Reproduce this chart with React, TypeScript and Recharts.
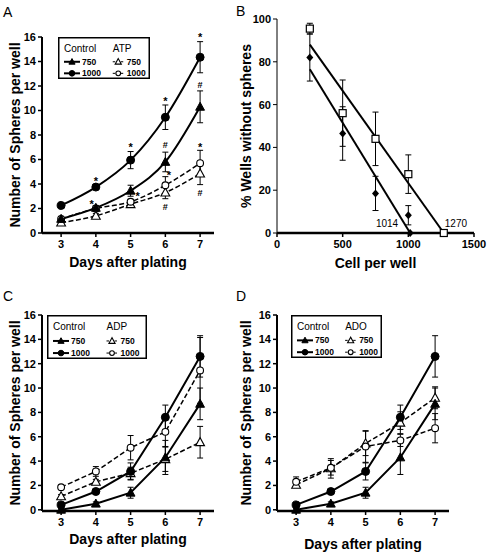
import React from "react";
import {
  LineChart,
  Line,
  XAxis,
  YAxis,
  ErrorBar,
  Legend,
  Label,
  ReferenceDot,
  ReferenceLine,
  ComposedChart,
  Scatter,
} from "recharts";

const FONT = '"Liberation Sans", Arial, Helvetica, sans-serif';

const days = [3, 4, 5, 6, 7];
const sphereTicks = [0, 2, 4, 6, 8, 10, 12, 14, 16];

// A: control vs ATP
const aCtrl750 = [1.15, 2.05, 3.45, 5.8, 10.3];
const aCtrl750Err = [0.15, 0.2, 0.45, 0.8, 1.3];
const aCtrl1000 = [2.25, 3.75, 5.95, 9.45, 14.35];
const aCtrl1000Err = [0.15, 0.2, 0.7, 1.0, 1.27];
const aAtp750 = [0.85, 1.4, 2.35, 3.3, 4.85];
const aAtp750Err = [0.15, 0.2, 0.2, 0.5, 0.9];
const aAtp1000 = [1.15, 2.0, 2.55, 3.9, 5.7];
const aAtp1000Err = [0.2, 0.2, 0.2, 0.7, 1.05];
const aStars = [[4, 4.4], [5, 7.2], [6, 10.9], [7, 16.2], [3.88, 2.5], [5.2, 3.2], [6.1, 4.9], [7, 7.2]];
const aHashes = [[6, 7.2], [7, 12.1], [6, 2.15], [7, 3.3]];

// C and D share the control groups
const cdCtrl750 = [0, 0.5, 1.4, 4.3, 8.7];
const cdCtrl750Err = [0.1, 0.15, 0.45, 1.4, 1.3];
const cdCtrl1000 = [0.4, 1.5, 3.15, 7.6, 12.6];
const cdCtrl1000Err = [0.15, 0.2, 0.7, 1.0, 1.7];

// C: ADP
const cAdp750 = [1.1, 2.3, 3.0, 4.15, 5.55];
const cAdp750Err = [0.15, 0.2, 0.5, 1.0, 1.3];
const cAdp1000 = [1.85, 3.15, 5.1, 6.4, 11.45];
const cAdp1000Err = [0.15, 0.4, 1.0, 1.2, 2.7];

// D: ADO
const dAdo750 = [2.05, 3.4, 5.45, 7.15, 9.2];
const dAdo750Err = [0.2, 0.8, 1.0, 0.9, 0.9];
const dAdo1000 = [2.3, 3.45, 5.2, 5.7, 6.7];
const dAdo1000Err = [0.4, 0.6, 1.3, 0.5, 1.2];

// B: limiting dilution
const bCells = [250, 500, 750, 1000];
const bDiamond = [82, 46.5, 18.5, 8.3];
const bDiamondErr = [11, 12.5, 8, 4.5];
const bSquare = [95.5, 56, 44, 27.5];
const bSquareErr = [2.5, 15.5, 12.5, 9];
const bIntercepts = [1014, 1270];
const bDiamondFit = [{ x: 250, y: 76.5 }, { x: 1014, y: 0 }];
const bSquareFit = [{ x: 250, y: 88 }, { x: 1270, y: 0 }];

const buildRows = (c750: number[], c750e: number[], c1000: number[], c1000e: number[], t750: number[], t750e: number[], t1000: number[], t1000e: number[]) =>
  days.map((day, i) => ({
    day,
    c750: c750[i], c750e: c750e[i],
    c1000: c1000[i], c1000e: c1000e[i],
    t750: t750[i], t750e: t750e[i],
    t1000: t1000[i], t1000e: t1000e[i],
  }));

const aRows = buildRows(aCtrl750, aCtrl750Err, aCtrl1000, aCtrl1000Err, aAtp750, aAtp750Err, aAtp1000, aAtp1000Err);
const cRows = buildRows(cdCtrl750, cdCtrl750Err, cdCtrl1000, cdCtrl1000Err, cAdp750, cAdp750Err, cAdp1000, cAdp1000Err);
const dRows = buildRows(cdCtrl750, cdCtrl750Err, cdCtrl1000, cdCtrl1000Err, dAdo750, dAdo750Err, dAdo1000, dAdo1000Err);

const bDiamondRows = [
  ...bCells.map((x, i) => ({ x, y: bDiamond[i], e: bDiamondErr[i] })),
  { x: bIntercepts[0], y: 0, e: 0 },
];
const bSquareRows = [
  ...bCells.map((x, i) => ({ x, y: bSquare[i], e: bSquareErr[i] })),
  { x: bIntercepts[1], y: 0, e: 0 },
];

const tickStyle = { fontSize: 11, fontWeight: "bold", fill: "#000", fontFamily: FONT };
const titleStyle = { fontSize: 14, fontWeight: "bold", fill: "#000", fontFamily: FONT };

function Marker({ cx, cy, kind, s = 1 }: { cx?: number; cy?: number; kind: string; s?: number }) {
  if (cx == null || cy == null) return null;
  const open = kind.startsWith("open");
  const fill = open ? "#fff" : "#000";
  if (kind.endsWith("tri")) {
    return (
      <polygon
        points={`${cx},${cy - 4.6 * s} ${cx - 4.4 * s},${cy + 3.4 * s} ${cx + 4.4 * s},${cy + 3.4 * s}`}
        fill={fill}
        stroke="#000"
        strokeWidth={open ? 1.1 : 1}
      />
    );
  }
  if (kind.endsWith("diamond")) {
    return <polygon points={`${cx},${cy - 4} ${cx - 3.5},${cy} ${cx},${cy + 4} ${cx + 3.5},${cy}`} fill="#000" />;
  }
  if (kind.endsWith("square")) {
    return <rect x={cx - 3.5} y={cy - 3.5} width={7} height={7} fill="#fff" stroke="#000" strokeWidth={1.2} />;
  }
  return <circle cx={cx} cy={cy} r={(open ? 3.4 : 4) * s} fill={fill} stroke="#000" strokeWidth={open ? 1.1 : 1} />;
}

const dotOf = (kind: string) => (p: any) => <Marker key={`${kind}-${p.index}`} cx={p.cx} cy={p.cy} kind={kind} />;

function KeyBox({ treat, w, h }: { treat: string; w: number; h: number }) {
  const t = h * 0.35;
  const rows = [
    { y: h * 0.59, label: "750", mark: "tri" },
    { y: h * 0.865, label: "1000", mark: "circle" },
  ];
  const col2 = w * 0.595;
  return (
    <svg width={w} height={h} style={{ display: "block", fontFamily: FONT }}>
      <rect x={0.75} y={0.75} width={w - 1.5} height={h - 1.5} fill="#fff" stroke="#000" strokeWidth={1.5} />
      <text x={6} y={t} fontSize={10} fill="#000">Control</text>
      <text x={col2} y={t} fontSize={10} fill="#000">{treat}</text>
      {rows.map((r) => (
        <g key={r.label}>
          <line x1={6} x2={22} y1={r.y} y2={r.y} stroke="#000" strokeWidth={2} />
          <Marker cx={14} cy={r.y} kind={`filled-${r.mark}`} s={0.7} />
          <text x={24} y={r.y + 3} fontSize={8.5} fontWeight="bold" fill="#000">{r.label}</text>
          <line x1={col2} x2={col2 + 11} y1={r.y} y2={r.y} stroke="#000" strokeWidth={1} strokeDasharray="2.5 1.5" />
          <Marker cx={col2 + 5.5} cy={r.y} kind={`open-${r.mark}`} s={0.7} />
          <text x={col2 + 14} y={r.y + 3} fontSize={8.5} fontWeight="bold" fill="#000">{r.label}</text>
        </g>
      ))}
    </svg>
  );
}

function Annotation({ cx, cy, sym }: any) {
  if (cx == null || cy == null) return null;
  const star = sym === "*";
  return (
    <text
      x={cx}
      y={cy + (star ? 6 : 3.3)}
      textAnchor="middle"
      fontSize={star ? 11 : 9}
      fontWeight="bold"
      fontFamily={FONT}
      fill="#000"
    >
      {sym}
    </text>
  );
}

type PanelProps = {
  rows: ReturnType<typeof buildRows>;
  treat: string;
  curve: "monotone" | "linear";
  width: number;
  height: number;
  margin: { top: number; right: number; bottom: number; left: number };
  yWidth: number;
  yTitleOffset: number;
  xTitleOffset: number;
  key_: { left: number; top: number; w: number; h: number };
  marks?: { x: number; y: number; sym: string }[];
};

function SpherePanel(p: PanelProps) {
  return (
    <LineChart width={p.width} height={p.height} data={p.rows} margin={p.margin}>
      <XAxis
        dataKey="day"
        type="number"
        domain={[2.45, 7.4]}
        ticks={days}
        height={30}
        tick={tickStyle}
        tickSize={4}
        tickMargin={3}
        axisLine={{ stroke: "#000", strokeWidth: 2.5 }}
        tickLine={{ stroke: "#000", strokeWidth: 1.5 }}
      >
        <Label value="Days after plating" position="bottom" offset={p.xTitleOffset} style={titleStyle} />
      </XAxis>
      <YAxis
        domain={[0, 16]}
        ticks={sphereTicks}
        width={p.yWidth}
        tick={tickStyle}
        tickSize={4}
        tickMargin={2}
        axisLine={{ stroke: "#000", strokeWidth: 2 }}
        tickLine={{ stroke: "#000", strokeWidth: 1.5 }}
      >
        <Label
          value="Number of Spheres per well"
          angle={-90}
          position="insideLeft"
          offset={p.yTitleOffset}
          style={{ ...titleStyle, textAnchor: "middle" }}
        />
      </YAxis>
      <Legend
        layout="horizontal"
        verticalAlign="middle"
        align="center"
        wrapperStyle={{ left: p.key_.left, top: p.key_.top, width: p.key_.w, height: p.key_.h }}
        content={() => <KeyBox treat={p.treat} w={p.key_.w} h={p.key_.h} />}
      />
      <Line type={p.curve} dataKey="t750" stroke="#000" strokeWidth={1.5} strokeDasharray="5 2.5" dot={dotOf("open-tri")} isAnimationActive={false}>
        <ErrorBar dataKey="t750e" direction="y" width={3} stroke="#000" strokeWidth={1} />
      </Line>
      <Line type={p.curve} dataKey="t1000" stroke="#000" strokeWidth={1.5} strokeDasharray="5 2.5" dot={dotOf("open-circle")} isAnimationActive={false}>
        <ErrorBar dataKey="t1000e" direction="y" width={3} stroke="#000" strokeWidth={1} />
      </Line>
      <Line type={p.curve} dataKey="c750" stroke="#000" strokeWidth={2} dot={dotOf("filled-tri")} isAnimationActive={false}>
        <ErrorBar dataKey="c750e" direction="y" width={3} stroke="#000" strokeWidth={1} />
      </Line>
      <Line type={p.curve} dataKey="c1000" stroke="#000" strokeWidth={2} dot={dotOf("filled-circle")} isAnimationActive={false}>
        <ErrorBar dataKey="c1000e" direction="y" width={3} stroke="#000" strokeWidth={1} />
      </Line>
      {(p.marks || []).map((m, i) => (
        <ReferenceDot
          key={`m${i}`}
          x={m.x}
          y={m.y}
          r={0}
          ifOverflow="visible"
          shape={(s: any) => <Annotation cx={s.cx} cy={s.cy} sym={m.sym} />}
        />
      ))}
    </LineChart>
  );
}

function DilutionPanel() {
  return (
    <ComposedChart width={254} height={276} margin={{ top: 19, right: 14, bottom: 13, left: 0 }}>
      <XAxis
        dataKey="x"
        type="number"
        domain={[0, 1500]}
        ticks={[0, 500, 1000, 1500]}
        height={30}
        tick={tickStyle}
        tickSize={4}
        tickMargin={3}
        axisLine={{ stroke: "#000", strokeWidth: 2.5 }}
        tickLine={{ stroke: "#000", strokeWidth: 1.5 }}
      >
        <Label value="Cell per well" position="bottom" offset={-5} style={titleStyle} />
      </XAxis>
      <YAxis
        dataKey="y"
        type="number"
        domain={[0, 100]}
        ticks={[0, 20, 40, 60, 80, 100]}
        width={43}
        tick={tickStyle}
        tickSize={4}
        tickMargin={2}
        axisLine={{ stroke: "#000", strokeWidth: 1 }}
        tickLine={{ stroke: "#000", strokeWidth: 1 }}
      >
        <Label
          value="% Wells without spheres"
          angle={-90}
          position="insideLeft"
          offset={12}
          style={{ ...titleStyle, textAnchor: "middle" }}
        />
      </YAxis>
      <ReferenceLine segment={bDiamondFit} stroke="#000" strokeWidth={2} />
      <ReferenceLine segment={bSquareFit} stroke="#000" strokeWidth={2} />
      <Scatter data={bDiamondRows} shape={dotOf("filled-diamond")} isAnimationActive={false}>
        <ErrorBar dataKey="e" direction="y" width={3} stroke="#000" strokeWidth={1} />
      </Scatter>
      <Scatter data={bSquareRows} shape={dotOf("open-square")} isAnimationActive={false}>
        <ErrorBar dataKey="e" direction="y" width={3} stroke="#000" strokeWidth={1} />
      </Scatter>
      <ReferenceDot
        x={bIntercepts[0]}
        y={0}
        r={0}
        ifOverflow="visible"
        shape={(s: any) => (
          <text x={s.cx - 12} y={s.cy - 6.5} textAnchor="end" fontSize={10} fontFamily={FONT} fill="#000">
            {bIntercepts[0]}
          </text>
        )}
      />
      <ReferenceDot
        x={bIntercepts[1]}
        y={0}
        r={0}
        ifOverflow="visible"
        shape={(s: any) => (
          <text x={s.cx + 1} y={s.cy - 6.5} textAnchor="start" fontSize={10} fontFamily={FONT} fill="#000">
            {bIntercepts[1]}
          </text>
        )}
      />
    </ComposedChart>
  );
}

const letter = (ch: string, left: number, top: number) => (
  <div style={{ position: "absolute", left, top, fontSize: 14, fontFamily: FONT, lineHeight: "16px" }}>{ch}</div>
);

export default function App() {
  const aMarks = [
    ...aStars.map(([x, y]) => ({ x, y, sym: "*" })),
    ...aHashes.map(([x, y]) => ({ x, y, sym: "#" })),
  ];
  return (
    <div style={{ position: "absolute", left: 0, top: 0, width: 488, height: 553, background: "#fff", fontFamily: FONT, overflow: "hidden" }}>
      <div style={{ position: "absolute", left: 0, top: 0 }}>
        <SpherePanel
          rows={aRows}
          treat="ATP"
          curve="monotone"
          width={244}
          height={276}
          margin={{ top: 37, right: 30, bottom: 13, left: 0 }}
          yWidth={42}
          yTitleOffset={15}
          xTitleOffset={-6}
          key_={{ left: 58, top: 37, w: 92, h: 42 }}
          marks={aMarks}
        />
      </div>
      <div style={{ position: "absolute", left: 234, top: 0 }}>
        <DilutionPanel />
      </div>
      <div style={{ position: "absolute", left: 0, top: 276 }}>
        <SpherePanel
          rows={cRows}
          treat="ADP"
          curve="linear"
          width={244}
          height={277}
          margin={{ top: 39, right: 30, bottom: 12, left: 0 }}
          yWidth={42}
          yTitleOffset={15}
          xTitleOffset={-7}
          key_={{ left: 47, top: 39, w: 100, h: 44 }}
        />
      </div>
      <div style={{ position: "absolute", left: 234, top: 276 }}>
        <SpherePanel
          rows={dRows}
          treat="ADO"
          curve="linear"
          width={254}
          height={277}
          margin={{ top: 39, right: 39, bottom: 12, left: 0 }}
          yWidth={43}
          yTitleOffset={12}
          xTitleOffset={-2}
          key_={{ left: 57, top: 39, w: 91, h: 43 }}
        />
      </div>
      {letter("A", 3, 4)}
      {letter("B", 236, 3)}
      {letter("C", 3, 288)}
      {letter("D", 236, 288)}
    </div>
  );
}
